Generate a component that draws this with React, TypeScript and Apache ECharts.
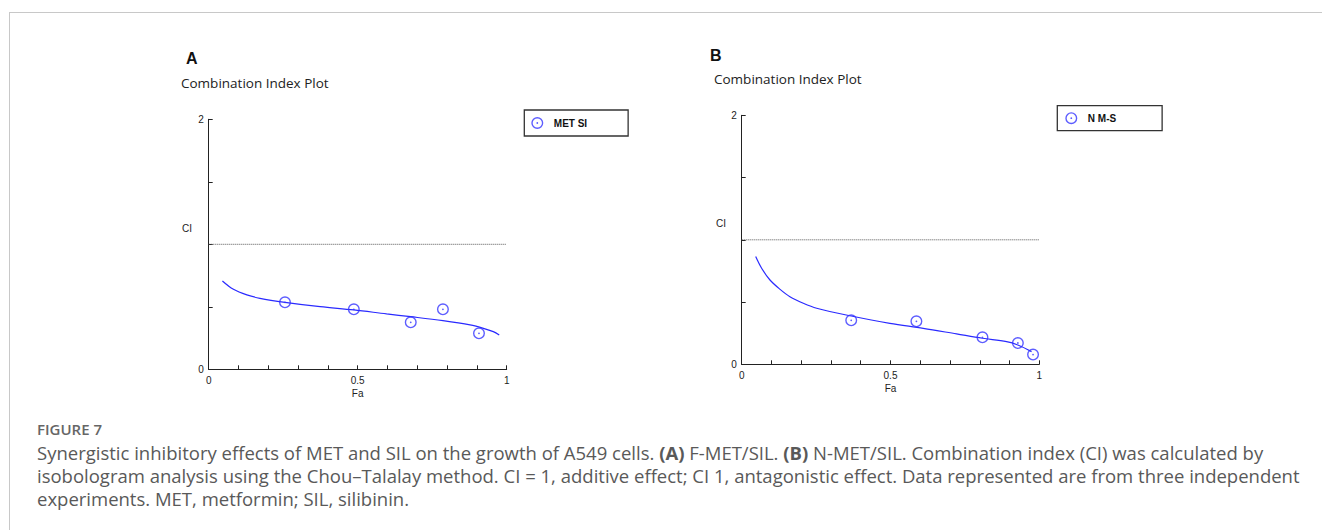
import React, { useEffect, useRef } from "react";
import * as echarts from "echarts";

// Panel A data (F-MET/SIL)
const faA = [0.256, 0.487, 0.678, 0.786, 0.907];
const ciA = [0.536, 0.48, 0.376, 0.48, 0.288];
const curveFaA = [0.046, 0.083, 0.128, 0.172, 0.256, 0.374, 0.487, 0.597, 0.678, 0.786, 0.877, 0.922, 0.955, 0.975];
const curveCiA = [0.707, 0.64, 0.595, 0.568, 0.536, 0.501, 0.475, 0.443, 0.421, 0.389, 0.355, 0.328, 0.301, 0.275];

// Panel B data (N-MET/SIL)
const faB = [0.368, 0.587, 0.809, 0.928, 0.979];
const ciB = [0.353, 0.345, 0.217, 0.171, 0.078];
const curveFaB = [0.047, 0.067, 0.095, 0.129, 0.162, 0.207, 0.252, 0.368, 0.498, 0.61, 0.722, 0.809, 0.89, 0.928, 0.974];
const curveCiB = [0.865, 0.771, 0.677, 0.602, 0.543, 0.49, 0.45, 0.388, 0.329, 0.289, 0.244, 0.209, 0.182, 0.155, 0.102];

const refFa = [0, 1];
const refCi = [1, 1];

const seriesNames = ["MET SI", "N M-S"];
const xLabels = [0, 0.5, 1];
const yLabels = [0, 2];

const captionTitle = "FIGURE 7";
const captionLines = [
  "Synergistic inhibitory effects of MET and SIL on the growth of A549 cells. {b|(A)} F-MET/SIL. {b|(B)} N-MET/SIL. Combination index (CI) was calculated by",
  "isobologram analysis using the Chou\u2013Talalay method. CI = 1, additive effect; CI 1, antagonistic effect. Data represented are from three independent",
  "experiments. MET, metformin; SIL, silibinin.",
];

const BLUE = "#3535ff";
const RING =
  "path://M0,-10 A10,10 0 1,1 0,10 A10,10 0 1,1 0,-10 Z M0,-7.7 A7.7,7.7 0 1,0 0,7.7 A7.7,7.7 0 1,0 0,-7.7 Z M0,-1.5 A1.5,1.5 0 1,1 0,1.5 A1.5,1.5 0 1,1 0,-1.5 Z";

const zip = (a: number[], b: number[]) => a.map((v, i) => [v, b[i]]);
const near = (v: number, list: number[]) => list.some((t) => Math.abs(t - v) < 1e-6);

function axes(gridIndex: number) {
  const x = {
    type: "value",
    gridIndex,
    min: 0,
    max: 1,
    interval: 0.1,
    name: "Fa",
    nameLocation: "middle",
    nameGap: 19,
    nameTextStyle: { fontFamily: "Arial", fontSize: 10, color: "#222" },
    axisLine: { lineStyle: { color: "#222", width: 1 } },
    axisTick: { inside: true, length: 4, lineStyle: { color: "#222" } },
    axisLabel: {
      margin: 6,
      fontFamily: "Arial",
      fontSize: 10,
      color: "#222",
      formatter: (v: number) => (near(v, xLabels) ? String(v) : ""),
    },
    splitLine: { show: false },
  };
  const y = {
    type: "value",
    gridIndex,
    min: 0,
    max: 2,
    interval: 0.5,
    axisLine: { show: true, lineStyle: { color: "#222", width: 1 } },
    axisTick: { show: true, inside: true, length: 4, lineStyle: { color: "#222" } },
    axisLabel: {
      margin: 5,
      fontFamily: "Arial",
      fontSize: 10,
      color: "#222",
      formatter: (v: number) => (near(v, yLabels) ? String(v) : ""),
    },
    splitLine: { show: false },
  };
  return { x, y };
}

export default function App() {
  const ref = useRef<HTMLDivElement>(null);
  useEffect(() => {
    if (!ref.current) return;
    const chart = echarts.init(ref.current, undefined, { renderer: "svg" });
    const a = axes(0);
    const b = axes(1);
    const scatter = (name: string, idx: number, data: number[][]) => ({
      name,
      type: "scatter",
      xAxisIndex: idx,
      yAxisIndex: idx,
      symbol: RING,
      symbolSize: 12,
      itemStyle: { color: BLUE },
      data,
      z: 5,
    });
    const curve = (idx: number, data: number[][]) => ({
      type: "line",
      xAxisIndex: idx,
      yAxisIndex: idx,
      smooth: 0.35,
      showSymbol: false,
      lineStyle: { color: "#2a2aff", width: 1.2 },
      data,
      z: 4,
    });
    const refLine = (idx: number) => ({
      type: "line",
      xAxisIndex: idx,
      yAxisIndex: idx,
      showSymbol: false,
      lineStyle: { color: "#555", width: 1, type: [1, 1] },
      data: zip(refFa, refCi),
      z: 3,
    });
    const legendBase = {
      orient: "vertical",
      borderColor: "#333",
      borderWidth: 1.3,
      itemWidth: 23,
      itemHeight: 12,
      icon: RING,
      textStyle: { fontFamily: "Arial", fontSize: 10, fontWeight: "bold", color: "#111" },
    };
    const cap = (text: string, y: number) => ({
      type: "text",
      x: 37,
      y,
      style: {
        text,
        font: "18.5px 'Open Sans'",
        fill: "#595959",
        textVerticalAlign: "middle",
        rich: { b: { fontWeight: "bold", fontFamily: "Open Sans", fontSize: 18.5, fill: "#595959" } },
      },
    });
    chart.setOption({
      animation: false,
      grid: [
        { left: 208.7, top: 119.3, width: 298, height: 250 },
        { left: 741.7, top: 115.3, width: 297.6, height: 249 },
      ],
      xAxis: [a.x, b.x],
      yAxis: [a.y, b.y],
      legend: [
        { ...legendBase, left: 524.3, top: 110, padding: [7, 41, 7, 7], data: [seriesNames[0]] },
        { ...legendBase, left: 1057.3, top: 105.7, padding: [6.5, 46, 6.5, 8], data: [seriesNames[1]] },
      ],
      series: [
        refLine(0),
        curve(0, zip(curveFaA, curveCiA)),
        scatter(seriesNames[0], 0, zip(faA, ciA)),
        refLine(1),
        curve(1, zip(curveFaB, curveCiB)),
        scatter(seriesNames[1], 1, zip(faB, ciB)),
      ],
      graphic: [
        { type: "line", shape: { x1: 9, y1: 12.5, x2: 1322, y2: 12.5 }, style: { stroke: "#c8c8c8", lineWidth: 1 } },
        { type: "line", shape: { x1: 9.5, y1: 12, x2: 9.5, y2: 530 }, style: { stroke: "#c8c8c8", lineWidth: 1 } },
        { type: "text", x: 186, y: 58, style: { text: "A", font: "bold 16px Arial", fill: "#111", textVerticalAlign: "middle" } },
        { type: "text", x: 181, y: 83, style: { text: "Combination Index Plot", font: "13.5px 'Open Sans'", fill: "#222", textVerticalAlign: "middle" } },
        { type: "text", x: 182, y: 228, style: { text: "CI", font: "10px Arial", fill: "#222", textVerticalAlign: "middle" } },
        { type: "text", x: 710, y: 55, style: { text: "B", font: "bold 16px Arial", fill: "#111", textVerticalAlign: "middle" } },
        { type: "text", x: 714, y: 79, style: { text: "Combination Index Plot", font: "13.5px 'Open Sans'", fill: "#222", textVerticalAlign: "middle" } },
        { type: "text", x: 716, y: 223, style: { text: "CI", font: "10px Arial", fill: "#222", textVerticalAlign: "middle" } },
        { type: "text", x: 37, y: 429, style: { text: captionTitle, font: "600 15px 'Open Sans'", fill: "#666", textVerticalAlign: "middle" } },
        cap(captionLines[0], 452),
        cap(captionLines[1], 475),
        cap(captionLines[2], 498),
      ],
    });
    return () => chart.dispose();
  }, []);
  return <div ref={ref} style={{ position: "absolute", left: 0, top: 0, width: 1322, height: 530 }} />;
}
